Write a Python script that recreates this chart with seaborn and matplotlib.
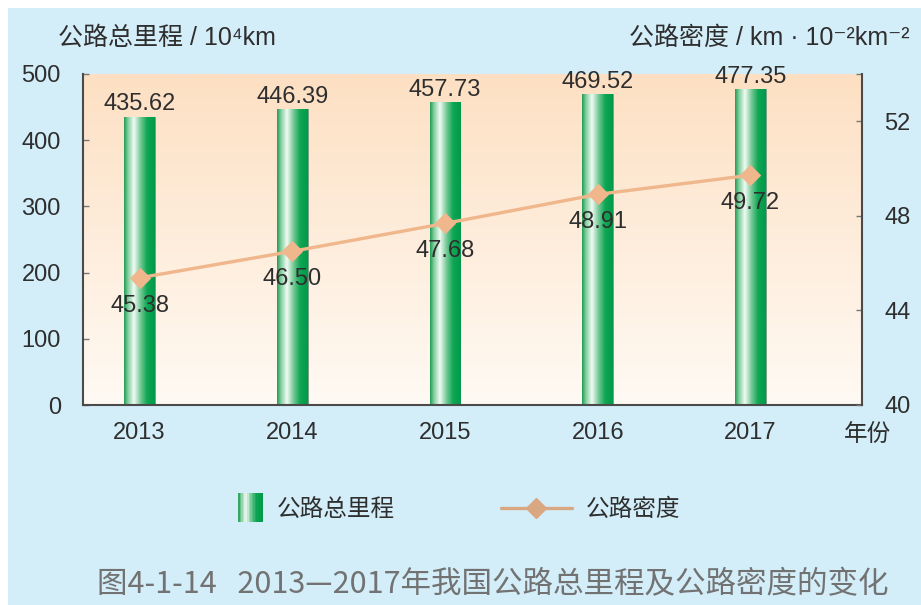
import numpy as np
import pandas as pd
import matplotlib
matplotlib.use("Agg")
import matplotlib.pyplot as plt
import seaborn as sns
from matplotlib.colors import LinearSegmentedColormap
from matplotlib.patches import Rectangle
from matplotlib.lines import Line2D
from matplotlib.legend_handler import HandlerBase

# ---- datos ----
years = ["2013", "2014", "2015", "2016", "2017"]
mileage = [435.62, 446.39, 457.73, 469.52, 477.35]   # 10^4 km
density = [45.38, 46.50, 47.68, 48.91, 49.72]        # km / 100 km^2
left_ticks = [0, 100, 200, 300, 400, 500]
right_ticks = [40, 44, 48, 52, 54]
right_labels = ["40", "44", "48", "52", ""]

# ---- estilo ----
sns.set_theme(style="white")
plt.rcParams["font.family"] = ["Liberation Sans", "Noto Sans CJK SC", "DejaVu Sans"]

TXT = "#2e2e2e"
SPINE = "#4a4a4a"
BLUE_BG = "#d3eef9"
LINE_C = "#f0b68c"
bar_cmap = LinearSegmentedColormap.from_list(
    "barra",
    [(0.0, "#1f9a55"), (0.12, "#7ccc98"), (0.32, "#f2fbf5"),
     (0.55, "#6cc690"), (0.75, "#0ea653"), (1.0, "#019a4b")])
bg_cmap = LinearSegmentedColormap.from_list("fondo", ["#fffaf4", "#fde0c3"])

fig = plt.figure(figsize=(9.21, 6.05), dpi=100, facecolor="white")
fig.patches.append(Rectangle((8 / 921, 0), 1, 1 - 8 / 605, transform=fig.transFigure,
                             facecolor=BLUE_BG, edgecolor="none", zorder=-10))

ax = fig.add_axes([83 / 921, 1 - 405 / 605, (862 - 83) / 921, (405 - 74) / 605])
df = pd.DataFrame({"year": years, "mileage": mileage})
sns.barplot(data=df, x="year", y="mileage", color="#0ea653", width=0.2,
            edgecolor="#7a9a85", linewidth=0.6, ax=ax)

xlim = (-0.37, 4.73)
ylim = (0, 500)

# fondo degradado del área de trazado
grad_v = np.linspace(0, 1, 256).reshape(-1, 1)
ax.imshow(grad_v, cmap=bg_cmap, origin="lower", aspect="auto",
          extent=[xlim[0], xlim[1], ylim[0], ylim[1]], zorder=0)

# barras con degradado horizontal
grad_h = np.linspace(0, 1, 256).reshape(1, -1)
for p in ax.patches:
    x0, y0, w, h = p.get_x(), p.get_y(), p.get_width(), p.get_height()
    im = ax.imshow(grad_h, cmap=bar_cmap, aspect="auto",
                   extent=[x0, x0 + w, y0, y0 + h], zorder=p.get_zorder() + 0.1)
    im.set_clip_path(p)

ax.bar_label(ax.containers[0], labels=[f"{v:.2f}" for v in mileage],
             padding=1, fontsize=17, color=TXT)

ax.set_xlim(*xlim)
ax.set_ylim(*ylim)
ax.set_yticks(left_ticks)
ax.set_xlabel("")
ax.set_ylabel("")
ax.tick_params(axis="y", direction="in", length=4, width=1, color="#777777",
               labelsize=17, labelcolor=TXT, pad=16)
ax.tick_params(axis="x", length=0, labelsize=17, labelcolor=TXT, pad=12)
for s in ["left", "bottom"]:
    ax.spines[s].set_color(SPINE)
    ax.spines[s].set_linewidth(1.5)
ax.spines["top"].set_visible(False)
ax.spines["right"].set_visible(False)

# eje secundario: densidad
ax2 = ax.twinx()
sns.lineplot(x=np.arange(len(years)), y=density, ax=ax2, color=LINE_C,
             linewidth=2.4, marker="D", markersize=10, markeredgecolor=LINE_C)
ax2.set_ylim(40, 54)
ax2.set_xlim(*xlim)
ax2.set_yticks(right_ticks, right_labels)
ax2.tick_params(axis="y", direction="in", length=4, width=1, color="#777777",
                labelsize=17, labelcolor=TXT, pad=16)
for s in ["top", "left", "bottom"]:
    ax2.spines[s].set_visible(False)
ax2.spines["right"].set_color(SPINE)
ax2.spines["right"].set_linewidth(1.5)
for i, v in enumerate(density):
    ax2.annotate(f"{v:.2f}", (i, v), xytext=(0, -20), textcoords="offset points",
                 ha="center", va="center", fontsize=17, color=TXT)

# títulos de ejes
fig.text(58 / 921, 1 - 38 / 605, "公路总里程 / 10⁴km", ha="left", va="center",
         fontsize=18, color=TXT)
fig.text(910 / 921, 1 - 38 / 605, "公路密度 / km · 10⁻²km⁻²", ha="right",
         va="center", fontsize=18, color=TXT)
fig.text(867 / 921, 1 - 435 / 605, "年份", ha="center", va="center",
         fontsize=17, color=TXT)


# leyenda con muestra degradada
class GradHandler(HandlerBase):
    def create_artists(self, legend, orig_handle, xdescent, ydescent,
                       width, height, fontsize, trans):
        n = 16
        sw = height * 1.45
        hh = height * 1.75
        y0 = -ydescent - (hh - height) / 2
        x_start = -xdescent + width - sw
        arts = []
        for i in range(n):
            arts.append(Rectangle((x_start + i * sw / n, y0), sw / n + 0.2, hh,
                                  facecolor=bar_cmap((i + 0.5) / n),
                                  edgecolor="none", transform=trans))
        return arts


bar_handle = Rectangle((0, 0), 1, 1)
line_handle = Line2D([], [], color="#d9a882", linewidth=2.4, marker="D",
                     markersize=10, markeredgecolor="#d9a882")
fig.legend([bar_handle, line_handle], ["公路总里程", "公路密度"],
           handler_map={Rectangle: GradHandler()},
           loc="center", bbox_to_anchor=(436 / 921, 1 - 510 / 605), ncol=2,
           frameon=False, fontsize=17, handlelength=3.0, handletextpad=0.6,
           columnspacing=4.5, labelcolor=TXT)

# pie de figura
fig.text(493 / 921, 1 - 585 / 605,
         "图4-1-14   2013—2017年我国公路总里程及公路密度的变化",
         ha="center", va="center", fontsize=22, color="#727272",
         family=["Noto Sans CJK SC", "DejaVu Sans"], fontweight="light")

fig.savefig("out.png", dpi=100, facecolor=fig.get_facecolor())
plt.close(fig)
